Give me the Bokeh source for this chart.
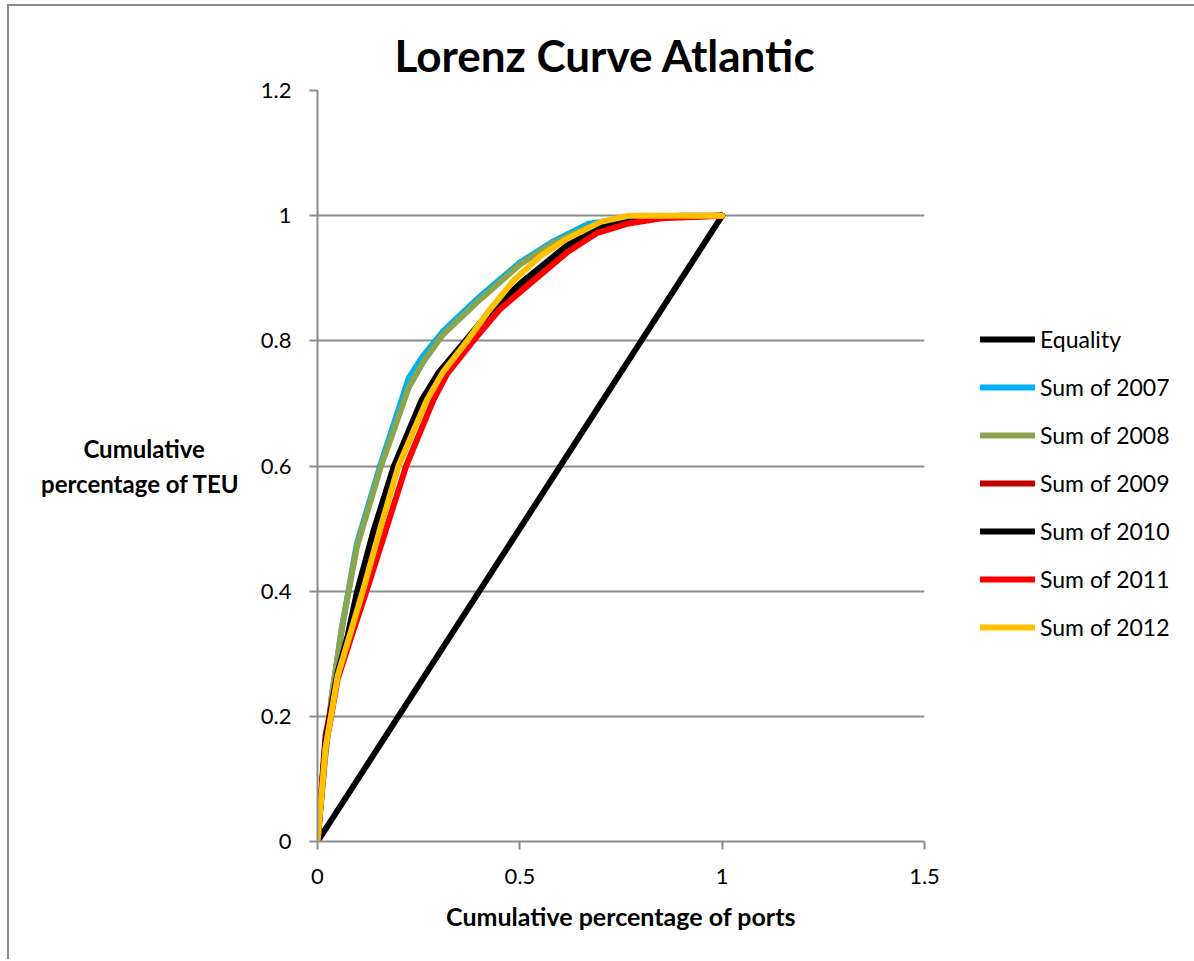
from bokeh.plotting import figure
from bokeh.models import Legend, LegendItem, FixedTicker, Range1d
from bokeh.embed import file_html
from bokeh.resources import INLINE

# ---- data ----
equality_x = [0, 1]
equality_y = [0, 1]

x_2007 = [0, 0.018, 0.035, 0.06, 0.097, 0.157, 0.19, 0.225, 0.26, 0.31, 0.4, 0.5, 0.58, 0.67, 0.7, 0.77, 0.9, 1]
y_2007 = [0, 0.13, 0.23, 0.34, 0.475, 0.605, 0.67, 0.74, 0.775, 0.815, 0.87, 0.925, 0.958, 0.987, 0.99, 0.997, 1.0, 1]

x_2008 = [0, 0.018, 0.035, 0.06, 0.097, 0.157, 0.19, 0.225, 0.26, 0.31, 0.4, 0.5, 0.58, 0.67, 0.77, 0.9, 1]
y_2008 = [0, 0.13, 0.23, 0.34, 0.47, 0.6, 0.66, 0.725, 0.765, 0.81, 0.865, 0.922, 0.955, 0.982, 0.997, 1.0, 1]

x_2009 = [0, 0.02, 0.05, 0.077, 0.1, 0.142, 0.191, 0.259, 0.302, 0.367, 0.432, 0.511, 0.618, 0.7, 0.77, 0.85, 1]
y_2009 = [0, 0.17, 0.27, 0.33, 0.4, 0.5, 0.6, 0.705, 0.75, 0.8, 0.85, 0.895, 0.951, 0.981, 0.993, 0.998, 1]

x_2010 = [0, 0.02, 0.05, 0.075, 0.098, 0.14, 0.189, 0.257, 0.3, 0.365, 0.43, 0.509, 0.616, 0.7, 0.77, 0.85, 1]
y_2010 = [0, 0.16, 0.27, 0.33, 0.4, 0.5, 0.6, 0.705, 0.75, 0.8, 0.85, 0.896, 0.952, 0.982, 0.994, 0.998, 1]

x_2011 = [0, 0.02, 0.05, 0.085, 0.121, 0.17, 0.219, 0.286, 0.32, 0.385, 0.45, 0.534, 0.616, 0.69, 0.765, 0.85, 1]
y_2011 = [0, 0.15, 0.26, 0.33, 0.4, 0.5, 0.6, 0.705, 0.747, 0.8, 0.85, 0.896, 0.941, 0.972, 0.987, 0.996, 1]

x_2012 = [0, 0.02, 0.05, 0.08, 0.112, 0.155, 0.2, 0.27, 0.31, 0.37, 0.42, 0.484, 0.55, 0.616, 0.7, 0.77, 1]
y_2012 = [0, 0.15, 0.265, 0.33, 0.4, 0.5, 0.6, 0.705, 0.75, 0.8, 0.845, 0.896, 0.935, 0.963, 0.99, 1.0, 1]

series_names = ["Equality", "Sum of 2007", "Sum of 2008", "Sum of 2009", "Sum of 2010", "Sum of 2011", "Sum of 2012"]
series_colors = ["#000000", "#00B0F0", "#8AA54E", "#C00000", "#000000", "#FF0000", "#FFC000"]

x_ticks = [0, 0.5, 1, 1.5]
x_tick_labels = ["0", "0.5", "1", "1.5"]
y_ticks = [0, 0.2, 0.4, 0.6, 0.8, 1.0, 1.2]
y_tick_labels = ["0", "0.2", "0.4", "0.6", "0.8", "1", "1.2"]

FONT = "Lato"
OX, OY = 9, 6  # outer border offset

p = figure(frame_width=607, frame_height=751, output_backend="svg", toolbar_location=None,
           x_range=Range1d(0, 1.5), y_range=Range1d(0, 1.2),
           min_border_left=317 - OX, min_border_right=0,
           min_border_top=90 - OY, min_border_bottom=961 - OY - (841 - OY) - 2)
p.styles = {"margin-left": "7px", "margin-top": "4px",
            "border-left": "2px solid #8a8a8a", "border-top": "2px solid #8a8a8a"}
p.outline_line_color = None
p.background_fill_color = "white"
p.border_fill_color = "white"

p.title.text = "Lorenz Curve Atlantic"
p.title.align = "left"
p.title.offset = 77
p.title.text_font = FONT
p.title.text_font_style = "bold"
p.title.text_font_size = "44px"
p.title.text_color = "#000000"
p.title.standoff = 20

p.xgrid.visible = False
p.ygrid.grid_line_color = "#8c8c8c"
p.ygrid.grid_line_width = 2
p.ygrid.ticker = FixedTicker(ticks=y_ticks)

p.xaxis.ticker = FixedTicker(ticks=x_ticks)
p.yaxis.ticker = FixedTicker(ticks=y_ticks)
p.xaxis.major_label_overrides = dict(zip(x_ticks, x_tick_labels))
p.yaxis.major_label_overrides = dict(zip(y_ticks, y_tick_labels))
for ax in (p.xaxis, p.yaxis):
    ax.axis_line_color = "#8c8c8c"
    ax.axis_line_width = 2
    ax.major_tick_line_color = "#8c8c8c"
    ax.major_tick_line_width = 2
    ax.major_tick_in = 0
    ax.major_tick_out = 8
    ax.minor_tick_line_color = None
    ax.major_label_text_font = FONT
    ax.major_label_text_font_size = "22px"
    ax.major_label_text_color = "#000000"
    ax.axis_label_text_font = FONT
    ax.axis_label_text_font_style = "bold"
    ax.axis_label_text_font_size = "24px"
    ax.axis_label_text_color = "#000000"
p.yaxis.major_label_standoff = 18
p.xaxis.major_label_standoff = 19

p.xaxis.axis_label = "Cumulative percentage of ports"
p.xaxis.axis_label_text_font_size = "25px"
p.xaxis.axis_label_standoff = 14

NB = "\u00a0"
p.yaxis.axis_label = "Cumulative" + NB * 6 + "\npercentage of TEU"
p.yaxis.axis_label_orientation = "horizontal"
p.yaxis.axis_label_standoff = 18

xs = [equality_x, x_2007, x_2008, x_2009, x_2010, x_2011, x_2012]
ys = [equality_y, y_2007, y_2008, y_2009, y_2010, y_2011, y_2012]
items = []
for name, color, xv, yv in zip(series_names, series_colors, xs, ys):
    r = p.line(xv, yv, line_color=color, line_width=6, line_cap="round", line_join="round")
    items.append(LegendItem(label=name, renderers=[r]))

legend = Legend(items=items, location=(56, 200),
                glyph_width=55, glyph_height=20, label_height=20,
                label_standoff=5, spacing=20, padding=0, margin=0,
                label_text_font=FONT, label_text_font_size="23px",
                label_text_color="#000000",
                border_line_color=None, background_fill_alpha=0)
p.add_layout(legend, "right")

open("out.html", "w").write(file_html(p, INLINE))
